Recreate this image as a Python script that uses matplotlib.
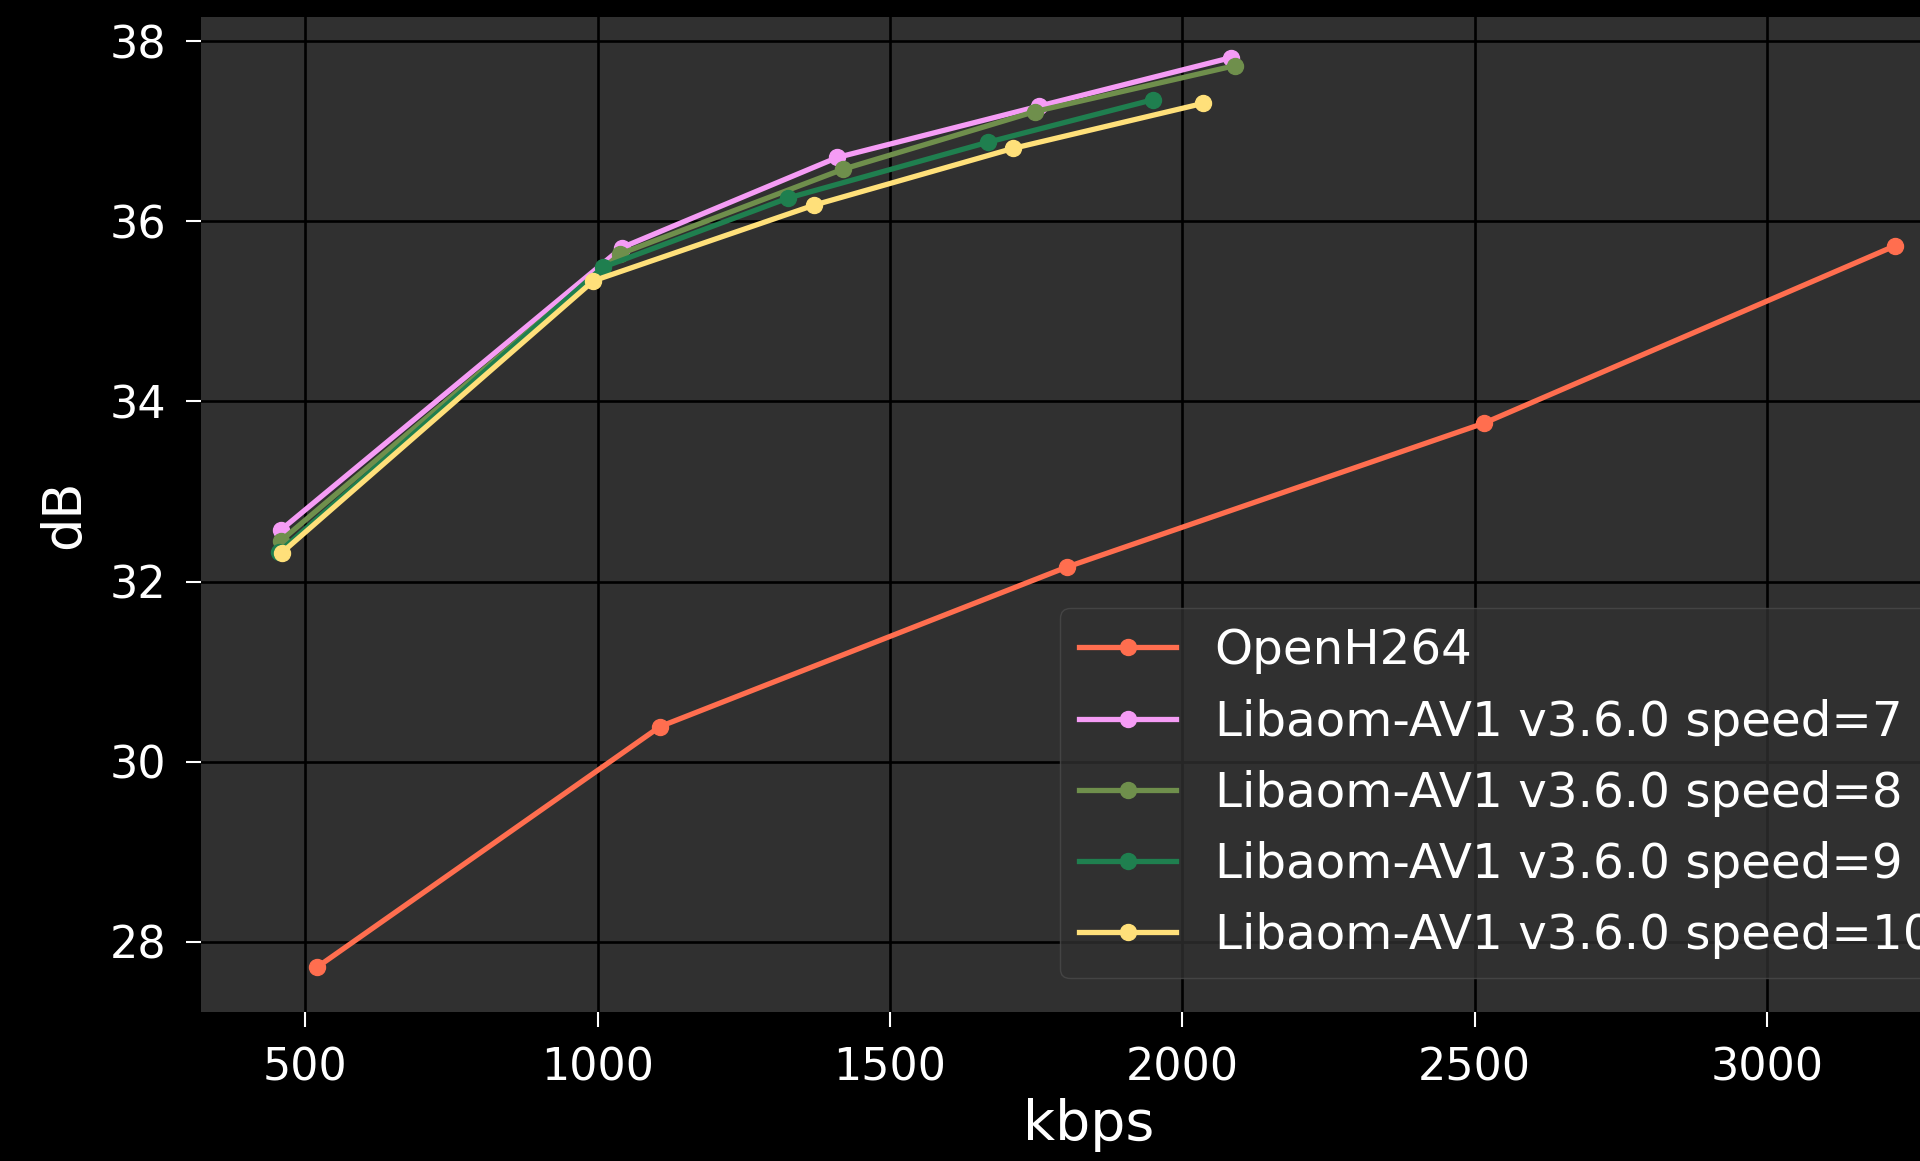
import matplotlib
matplotlib.use("Agg")
import matplotlib.pyplot as plt

# bitrate (kbps) / PSNR (dB) points per encoder
openh264_kbps = [521, 1107, 1802, 2516, 3219]
openh264_db = [27.72, 30.39, 32.16, 33.76, 35.73]

aom_s7_kbps = [458, 1042, 1410, 1755, 2084]
aom_s7_db = [32.57, 35.71, 36.71, 37.28, 37.82]

aom_s8_kbps = [458, 1039, 1420, 1748, 2090]
aom_s8_db = [32.45, 35.64, 36.58, 37.22, 37.73]

aom_s9_kbps = [456, 1009, 1326, 1668, 1949]
aom_s9_db = [32.33, 35.49, 36.26, 36.88, 37.35]

aom_s10_kbps = [460, 993, 1370, 1710, 2035]
aom_s10_db = [32.32, 35.34, 36.18, 36.81, 37.31]

labels = ["OpenH264",
          "Libaom-AV1 v3.6.0 speed=7",
          "Libaom-AV1 v3.6.0 speed=8",
          "Libaom-AV1 v3.6.0 speed=9",
          "Libaom-AV1 v3.6.0 speed=10"]
colors = ["#ff6e4f", "#f59cf5", "#6f8f4c", "#1f7f4f", "#ffe07a"]

series = [(openh264_kbps, openh264_db),
          (aom_s7_kbps, aom_s7_db),
          (aom_s8_kbps, aom_s8_db),
          (aom_s9_kbps, aom_s9_db),
          (aom_s10_kbps, aom_s10_db)]

fig = plt.figure(figsize=(19.2, 11.61), dpi=100, facecolor="black")
# axes runs past the right edge of the canvas
ax = fig.add_axes([201 / 1920, 149 / 1161, 1775 / 1920, 995 / 1161])
ax.set_facecolor("#303030")
for s in ax.spines.values():
    s.set_visible(False)

for (x, y), lab, c in zip(series, labels, colors):
    ax.plot(x, y, "-o", color=c, label=lab, linewidth=3.8, markersize=11.5)

ax.set_xlim(322, 3357)
ax.set_ylim(27.22, 38.27)
ax.set_xticks([500, 1000, 1500, 2000, 2500, 3000])
ax.set_yticks([28, 30, 32, 34, 36, 38])

ax.grid(True, color="black", linewidth=1.9)
ax.set_axisbelow(True)
ax.tick_params(colors="white", labelcolor="white", labelsize=32,
               length=11, width=1.5, pad=14)

ax.set_xlabel("kbps", color="white", fontsize=40, labelpad=6)
ax.set_ylabel("dB", color="white", fontsize=38, labelpad=14)

leg = ax.legend(loc="upper left", bbox_to_anchor=(1060 / 1920, 1 - 608 / 1161),
                bbox_transform=fig.transFigure, borderaxespad=0,
                fontsize=34.8, labelspacing=0.5, facecolor="#303030",
                edgecolor="#4a4a4a", framealpha=0.8)
for t in leg.get_texts():
    t.set_color("white")

fig.savefig("out.png", dpi=100, facecolor="black")
